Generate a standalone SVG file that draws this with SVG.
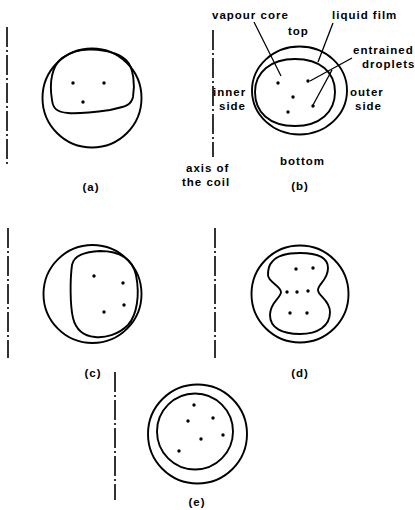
<svg xmlns="http://www.w3.org/2000/svg" width="415" height="510" viewBox="0 0 415 510">
  <style>
    .pipe { fill: none; stroke: #000; stroke-width: 1.9; }
    .core { fill: none; stroke: #000; stroke-width: 1.9; stroke-linejoin: round; }
    .axis { fill: none; stroke: #000; stroke-width: 1.6; stroke-dasharray: 20 3 2 3; }
    .lead { fill: none; stroke: #000; stroke-width: 1.3; }
    .drop { fill: #000; }
    text { font-family: "Liberation Sans", Arial, sans-serif; font-weight: bold; font-size: 11.5px; letter-spacing: 1px; fill: #000; }
    .cap { text-anchor: middle; }
  </style>

  <!-- (a) stratified core in upper part of the tube -->
  <g id="section-a">
    <line class="axis" x1="7" y1="27" x2="7" y2="165"/>
    <circle class="pipe" cx="92" cy="98" r="49.5"/>
    <path class="core" d="M 52,100 C 49,82 52,66 62,58 C 72,51 82,49 92,49.5 C 105,50 118,53 126,60 C 134,68 135,85 133,97 C 131,106 124,107 110,110 C 95,112 80,114 68,113 C 56,112 53,108 52,100 Z"/>
    <circle class="drop" cx="73" cy="83" r="1.7"/>
    <circle class="drop" cx="104" cy="83" r="1.7"/>
    <circle class="drop" cx="83" cy="102" r="1.7"/>
    <text class="cap" x="91" y="191">(a)</text>
  </g>

  <!-- (b) annotated section -->
  <g id="section-b">
    <line class="axis" x1="213" y1="30" x2="213" y2="157"/>
    <ellipse class="pipe" cx="299.5" cy="90.5" rx="47.5" ry="44"/>
    <path class="core" d="M 255,92 C 255,72 271,59 295,59 C 320,59 335,72 335,92 C 335,112 320,126 295,126 C 269,126 255,112 255,92 Z"/>
    <circle class="drop" cx="278" cy="83" r="1.7"/>
    <circle class="drop" cx="308" cy="81" r="1.7"/>
    <circle class="drop" cx="293" cy="97" r="1.7"/>
    <circle class="drop" cx="313" cy="106" r="1.7"/>
    <circle class="drop" cx="288" cy="112" r="1.7"/>
    <text x="212" y="19">vapour core</text>
    <text x="332" y="19">liquid film</text>
    <text x="288" y="35">top</text>
    <text x="353" y="54">entrained</text>
    <text x="362" y="68">droplets</text>
    <text x="213" y="96">inner</text>
    <text x="219" y="110">side</text>
    <text x="350" y="96">outer</text>
    <text x="355" y="110">side</text>
    <text x="280" y="165">bottom</text>
    <text x="186" y="172">axis of</text>
    <text x="182" y="186">the coil</text>
    <text class="cap" x="300" y="190">(b)</text>
  </g>

  <!-- (c) core displaced towards the outer side -->
  <g id="section-c">
    <line class="axis" x1="8" y1="228" x2="8" y2="358"/>
    <circle class="pipe" cx="92.5" cy="294" r="49"/>
    <path class="core" d="M 72,265 C 74,255 85,252 100,251 C 118,251 132,258 136,275 C 140,295 137,315 128,325 C 118,335 105,338 95,337 C 83,336 76,330 73,318 C 70,305 70,280 72,265 Z"/>
    <circle class="drop" cx="94" cy="276" r="1.7"/>
    <circle class="drop" cx="123" cy="283" r="1.7"/>
    <circle class="drop" cx="124" cy="305" r="1.7"/>
    <circle class="drop" cx="104" cy="312" r="1.7"/>
    <text class="cap" x="93" y="377">(c)</text>
  </g>

  <!-- (d) waisted core -->
  <g id="section-d">
    <line class="axis" x1="215" y1="228" x2="215" y2="358"/>
    <circle class="pipe" cx="300" cy="294" r="48.5"/>
    <path class="core" d="M 272,262 C 278,254 290,253 300,253 C 315,253 328,256 328,268 C 328,280 318,284 318,290 C 318,296 330,300 330,312 C 330,326 318,334 300,334 C 282,334 270,328 270,315 C 270,302 281,298 281,292 C 281,286 268,282 268,275 C 268,268 269,265 272,262 Z"/>
    <circle class="drop" cx="296" cy="269" r="1.7"/>
    <circle class="drop" cx="313" cy="268" r="1.7"/>
    <circle class="drop" cx="287" cy="292" r="1.7"/>
    <circle class="drop" cx="297" cy="292" r="1.7"/>
    <circle class="drop" cx="308" cy="291" r="1.7"/>
    <circle class="drop" cx="290" cy="313" r="1.7"/>
    <circle class="drop" cx="307" cy="313" r="1.7"/>
    <text class="cap" x="300" y="377">(d)</text>
  </g>

  <!-- (e) nearly concentric annular flow -->
  <g id="section-e">
    <line class="axis" x1="115" y1="372" x2="115" y2="500"/>
    <circle class="pipe" cx="197.5" cy="434" r="49.5"/>
    <circle class="core" cx="195" cy="431.5" r="38"/>
    <circle class="drop" cx="194" cy="405" r="1.7"/>
    <circle class="drop" cx="188" cy="421" r="1.7"/>
    <circle class="drop" cx="213" cy="418" r="1.7"/>
    <circle class="drop" cx="201" cy="439" r="1.7"/>
    <circle class="drop" cx="223" cy="435" r="1.7"/>
    <circle class="drop" cx="179" cy="451" r="1.7"/>
    <text class="cap" x="197" y="506">(e)</text>
  </g>

  <!-- leader lines for the labels of (b) -->
  <g id="connectors">
    <line class="lead" x1="254" y1="22" x2="281" y2="76"/>
    <line class="lead" x1="333" y1="23" x2="318" y2="62"/>
    <line class="lead" x1="352" y1="58" x2="310" y2="81"/>
    <line class="lead" x1="332" y1="70" x2="313" y2="105"/>
  </g>
</svg>
